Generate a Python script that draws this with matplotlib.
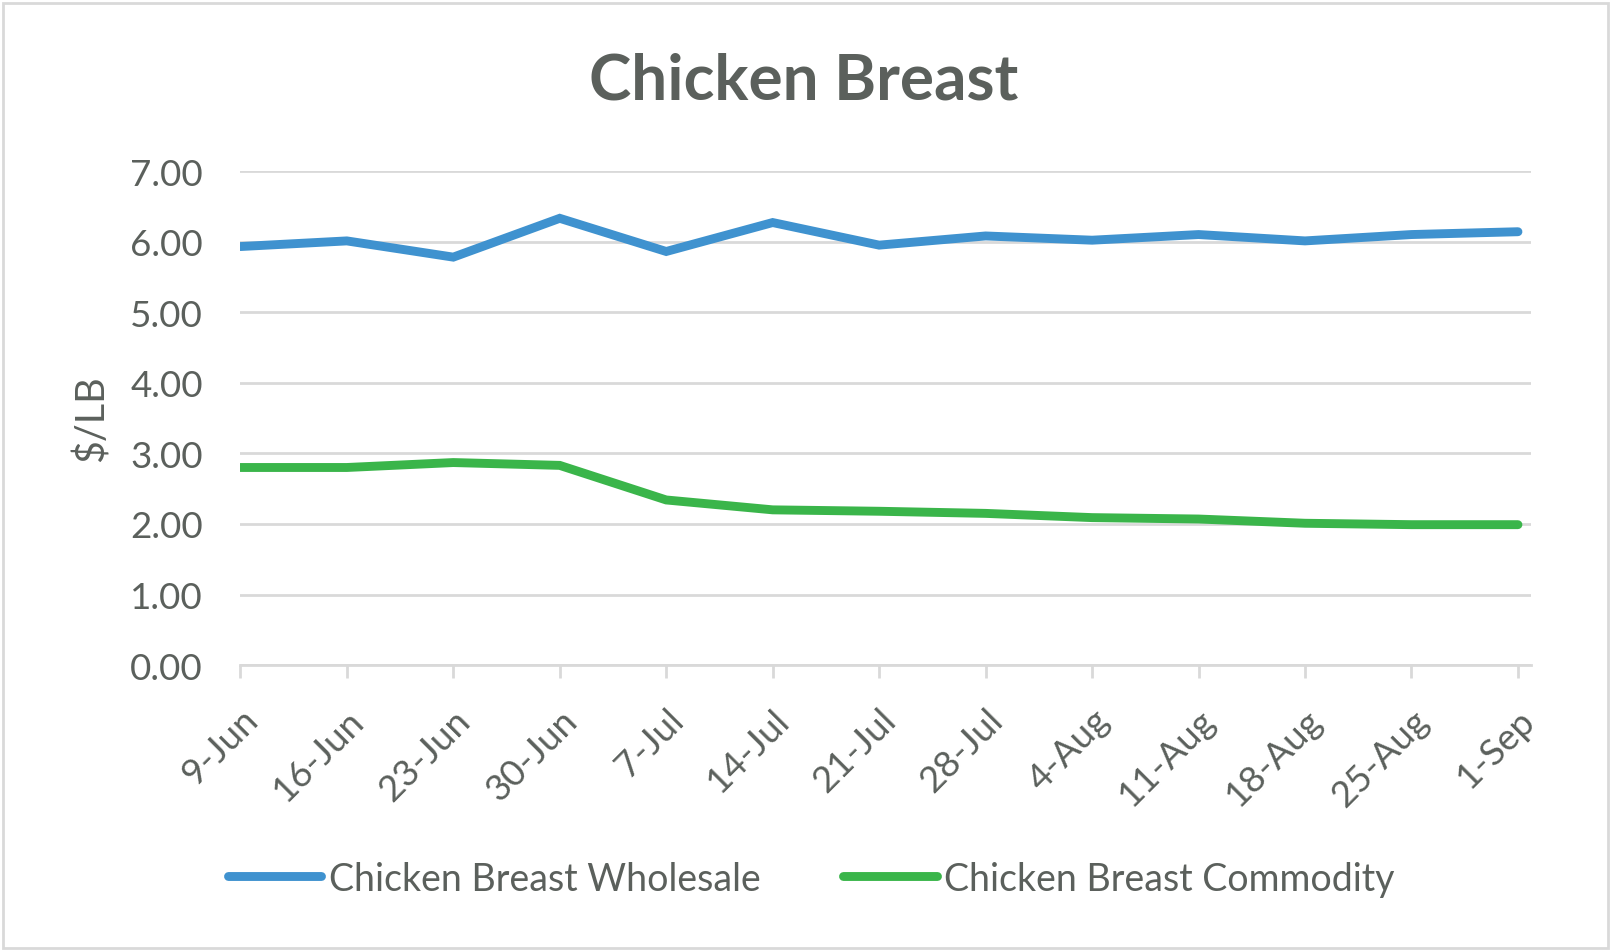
import matplotlib
matplotlib.use("Agg")
import matplotlib.pyplot as plt
from matplotlib.patches import Rectangle

dates = ["9-Jun", "16-Jun", "23-Jun", "30-Jun", "7-Jul", "14-Jul", "21-Jul",
         "28-Jul", "4-Aug", "11-Aug", "18-Aug", "25-Aug", "1-Sep"]
wholesale = [5.93, 6.01, 5.78, 6.33, 5.86, 6.27, 5.95, 6.08, 6.02, 6.10, 6.01, 6.10, 6.14]
commodity = [2.80, 2.80, 2.87, 2.83, 2.34, 2.20, 2.18, 2.15, 2.09, 2.07, 2.01, 1.99, 1.99]
yticks = [0, 1, 2, 3, 4, 5, 6, 7]

TXT = "#5B605C"
BLUE = "#3F92CF"
GREEN = "#3AB54A"
GRID = "#D9D9D9"

plt.rcParams['font.family'] = ['Lato', 'DejaVu Sans']

fig = plt.figure(figsize=(16.13, 9.53), dpi=100)
ax = fig.add_axes([0.149, 0.301, 0.800, 0.5185])

x = list(range(len(dates)))
ax.plot(x, wholesale, color=BLUE, lw=6.4, solid_capstyle='round', solid_joinstyle='miter',
        label="Chicken Breast Wholesale", zorder=3)
ax.plot(x, commodity, color=GREEN, lw=6.4, solid_capstyle='round', solid_joinstyle='miter',
        label="Chicken Breast Commodity", zorder=3)

ax.set_xlim(0, 12.12)
ax.set_ylim(0, 7)
ax.set_yticks(yticks)
ax.set_yticklabels([f"{v:.2f}" for v in yticks])
ax.yaxis.grid(True, color=GRID, lw=2)
ax.set_axisbelow(True)
for s in ["top", "right", "left"]:
    ax.spines[s].set_visible(False)
ax.spines["bottom"].set_color(GRID)
ax.spines["bottom"].set_linewidth(2)
ax.tick_params(axis='y', length=0, pad=27, labelsize=26.5, labelcolor=TXT)
ax.tick_params(axis='x', length=9, width=2, color=GRID, labelsize=26.5, labelcolor=TXT, pad=18)
ax.set_xticks(x)
ax.set_xticklabels(dates, rotation=45, ha='right', va='top', rotation_mode='anchor')

ax.set_ylabel("$/LB", fontsize=28.5, color=TXT, labelpad=14)

fig.text(0.498, 0.915, "Chicken Breast", ha='center', va='center', fontsize=46,
         fontweight='bold', color=TXT)

leg = fig.legend(loc='center', bbox_to_anchor=(0.503, 0.077), ncol=2, frameon=False,
                 fontsize=27, handlelength=2.5, handletextpad=0.2, columnspacing=2.2)
for t in leg.get_texts():
    t.set_color(TXT)

fig.patches.append(Rectangle((0.002, 0.004), 0.995, 0.992, transform=fig.transFigure,
                             fill=False, edgecolor=GRID, lw=2))

fig.savefig("out.png", dpi=100)
